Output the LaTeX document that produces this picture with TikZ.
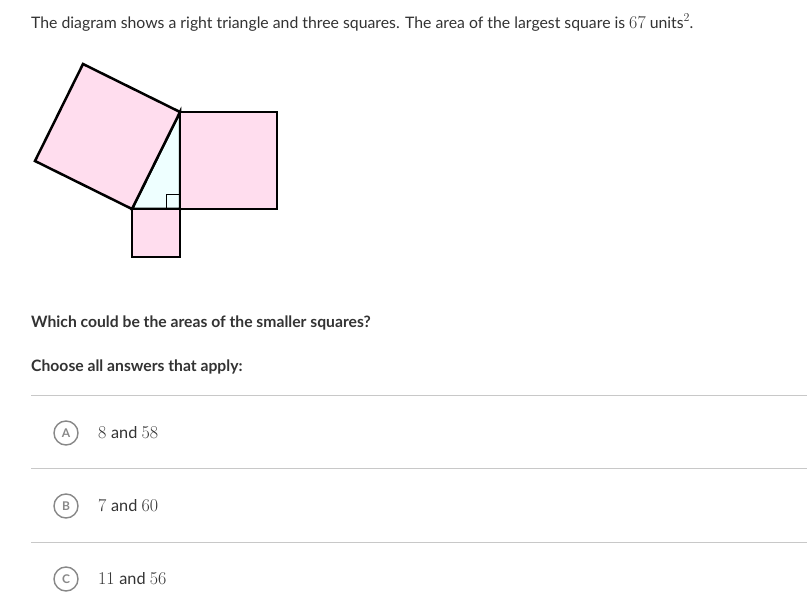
\documentclass[tikz,border=0pt]{standalone}
\usepackage{fontspec}
\setmainfont{Lato}
\newfontfamily\mathnum{Latin Modern Roman}
\definecolor{txt}{HTML}{333333}
\definecolor{pinkfill}{HTML}{FFDDEE}
\definecolor{cyanfill}{HTML}{EEFFFF}
\definecolor{sep}{HTML}{C8C8C8}
\definecolor{circ}{HTML}{888888}
\tikzset{
  sq/.style={draw=black, line width=2.5pt, fill=pinkfill, line join=miter},
  tri/.style={draw=black, line width=2.5pt, fill=cyanfill},
  txtnode/.style={anchor=base west, inner sep=0pt, text=txt, font=\fontsize{15.8}{18}\selectfont},
  boldnode/.style={anchor=base west, inner sep=0pt, text=txt, font=\bfseries\fontsize{15.7}{18}\selectfont},
  optcirc/.style={circle, draw=circ, line width=1.4pt, minimum size=24pt, inner sep=0pt, text=circ, font=\bfseries\fontsize{12}{14}\selectfont},
  opttext/.style={anchor=base west, inner sep=0pt, text=txt, font=\fontsize{18}{20}\selectfont},
  seprule/.style={draw=sep, line width=1pt}
}
\begin{document}
\begin{tikzpicture}[x=1pt,y=-1pt]
\useasboundingbox[fill=white] (0,0) rectangle (807,593);
% title
\node[txtnode] (title) at (31,29) {The diagram shows a right triangle and three squares. The area of the largest square is {\mathnum\fontsize{18}{18}\selectfont 67} units{\raisebox{0.45em}{\mathnum\fontsize{12}{12}\selectfont 2}}.};
% diagram
\coordinate (A) at (180,112);
\coordinate (B) at (132,209);
\coordinate (C) at (180,209);
\coordinate (D) at (35,161);
\coordinate (E) at (83,64);
\draw[tri] (A) -- (B) -- (C) -- cycle;
\draw[sq] (A) -- (E) -- (D) -- (B) -- cycle;
\draw[sq] (A) rectangle (277,209);
\draw[sq] (B) rectangle (C |- 0,257);
\draw[black, line width=1pt] (166,209) -- (166,195) -- (180,195);
% questions
\node[boldnode] (q) at (31,328) {Which could be the areas of the smaller squares?};
\node[boldnode] (ch) at (31,372) {Choose all answers that apply:};
% separators
\draw[seprule] (31,396) -- (807,396);
\draw[seprule] (31,469) -- (807,469);
\draw[seprule] (31,543) -- (807,543);
% options
\node[optcirc] (ca) at (66,433) {A};
\node[opttext] (ta) at (98,439) {{\mathnum 8} \fontsize{16.3}{18}\selectfont and {\mathnum\fontsize{18}{20}\selectfont 58}};
\node[optcirc] (cb) at (66,506) {B};
\node[opttext] (tb) at (98,512) {{\mathnum 7} \fontsize{16.3}{18}\selectfont and {\mathnum\fontsize{18}{20}\selectfont 60}};
\node[optcirc] (cc) at (66,579) {C};
\node[opttext] (tc) at (98,585) {{\mathnum 11} \fontsize{16.3}{18}\selectfont and {\mathnum\fontsize{18}{20}\selectfont 56}};
\end{tikzpicture}
\end{document}
